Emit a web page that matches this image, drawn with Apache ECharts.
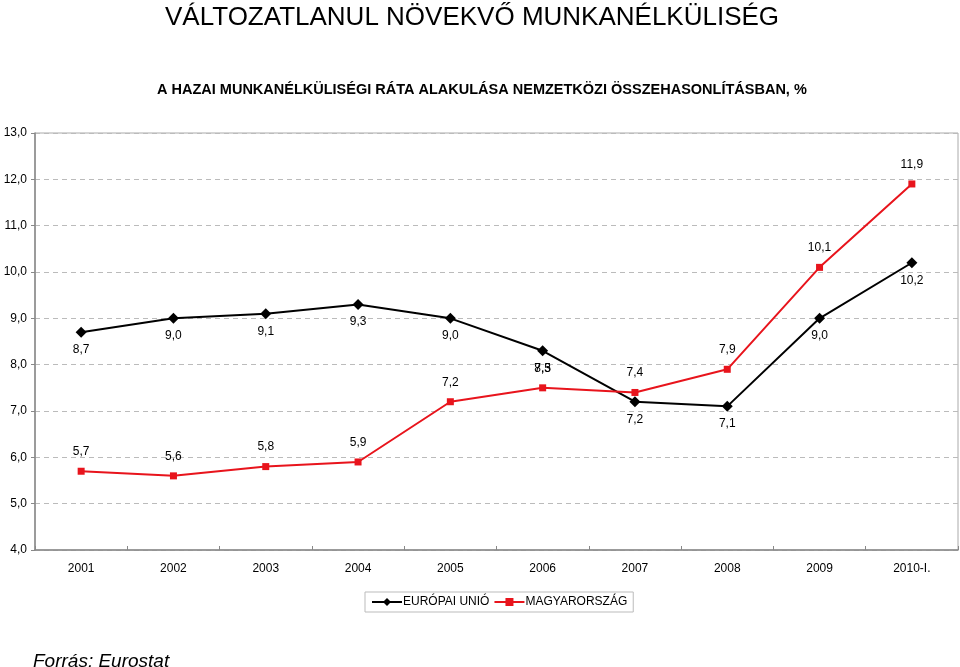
<!DOCTYPE html>
<html>
<head>
<meta charset="utf-8">
<script src="https://cdn.jsdelivr.net/npm/echarts@6/dist/echarts.min.js"></script>
<style>
  html, body { margin: 0; padding: 0; background: #fff; }
  #chart { width: 960px; height: 667px; }
</style>
</head>
<body>
<div id="chart"></div>
<script>
const years = ['2001', '2002', '2003', '2004', '2005', '2006', '2007', '2008', '2009', '2010-I.']
const euRate = [8.7, 9.0, 9.1, 9.3, 9.0, 8.3, 7.2, 7.1, 9.0, 10.2]
const huRate = [5.7, 5.6, 5.8, 5.9, 7.2, 7.5, 7.4, 7.9, 10.1, 11.9]

const font = '"Liberation Sans", Arial, sans-serif'
const fmt = v => v.toFixed(1).replace('.', ',')

const chart = echarts.init(document.getElementById('chart'))

chart.setOption({
  animation: false,
  textStyle: { fontFamily: font },
  title: [
    {
      text: 'VÁLTOZATLANUL NÖVEKVŐ MUNKANÉLKÜLISÉG',
      left: 160, top: 0,
      textStyle: { fontSize: 26, fontWeight: 'normal', color: '#000', fontFamily: font }
    },
    {
      text: 'A HAZAI MUNKANÉLKÜLISÉGI RÁTA ALAKULÁSA NEMZETKÖZI ÖSSZEHASONLÍTÁSBAN, %',
      left: 152, top: 77,
      textStyle: { fontSize: 14.5, fontWeight: 'bold', color: '#000', fontFamily: font }
    },
    {
      text: 'Forrás: Eurostat',
      left: 28, top: 647,
      textStyle: { fontSize: 19, fontWeight: 'normal', fontStyle: 'italic', color: '#000', fontFamily: font }
    }
  ],
  legend: {
    top: 592, left: 365,
    data: ['EURÓPAI UNIÓ', 'MAGYARORSZÁG'],
    itemWidth: 30, itemHeight: 10, itemGap: 4,
    padding: [4, 6],
    borderColor: '#bbb', borderWidth: 1,
    textStyle: { fontSize: 12, color: '#000', padding: [0, 0, 0, -4] }
  },
  grid: {
    left: 35, right: 2, top: 133, bottom: 117,
    show: true, borderColor: '#aaa', borderWidth: 1
  },
  xAxis: {
    type: 'category',
    data: years,
    boundaryGap: true,
    axisLine: { lineStyle: { color: '#888', width: 1.5 } },
    axisTick: { show: true, length: 4, inside: true, lineStyle: { color: '#888' } },
    axisLabel: { color: '#000', fontSize: 12, margin: 13 }
  },
  yAxis: {
    type: 'value',
    min: 4, max: 13, interval: 1,
    axisLine: { show: true, lineStyle: { color: '#888', width: 1.5 } },
    axisTick: { show: true, length: 4, lineStyle: { color: '#888' } },
    axisLabel: { color: '#000', fontSize: 12, margin: 8, formatter: v => fmt(v) },
    splitLine: { lineStyle: { color: '#bbb', type: [5, 4] } }
  },
  series: [
    {
      name: 'EURÓPAI UNIÓ',
      type: 'line',
      data: euRate,
      symbol: 'diamond',
      symbolSize: 11,
      itemStyle: { color: '#000' },
      lineStyle: { color: '#000', width: 2 },
      label: {
        show: true, position: 'bottom', distance: 6,
        color: '#000', fontSize: 12,
        formatter: p => fmt(p.value)
      }
    },
    {
      name: 'MAGYARORSZÁG',
      type: 'line',
      data: huRate,
      symbol: 'rect',
      symbolSize: 7,
      itemStyle: { color: '#e8141c' },
      lineStyle: { color: '#e8141c', width: 2 },
      label: {
        show: true, position: 'top', distance: 10,
        color: '#000', fontSize: 12,
        formatter: p => fmt(p.value)
      }
    }
  ]
})
</script>
</body>
</html>
